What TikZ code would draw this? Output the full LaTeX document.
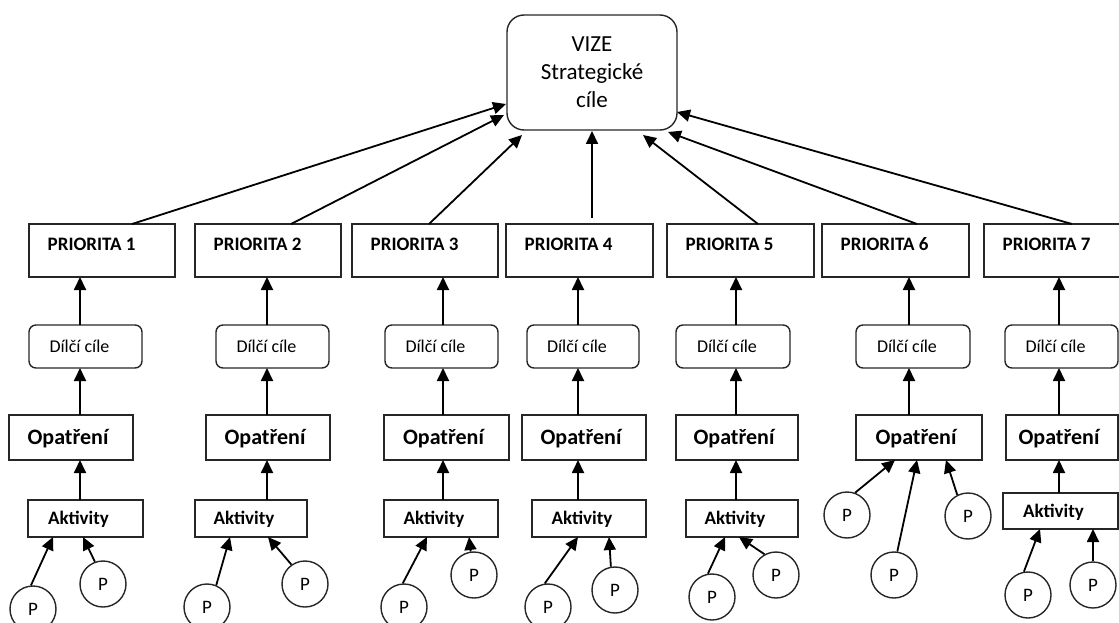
\documentclass[tikz,border=0pt]{standalone}
\usepackage{fontspec}
\setmainfont{Carlito}
\usetikzlibrary{arrows.meta,calc}
\newcommand\bx[7]{\node[#1, minimum width={(#5)-(#3)}, minimum height={(#6)-(#4)}] (#2) at ({((#3)+(#5))/2},{((#4)+(#6))/2}) {#7};}
\begin{document}
\begin{tikzpicture}[x=1pt,y=-1pt,
  box/.style={draw=black!85, line width=1.4pt, inner sep=0pt, outer sep=0pt},
  rbox/.style={box, rounded corners=7pt},
  vbox/.style={box, rounded corners=17pt, align=center, font=\fontsize{23}{28}\selectfont},
  ptxt/.style={font=\bfseries\fontsize{19}{22}\selectfont, inner sep=0pt, anchor=base west},
  dtxt/.style={font=\fontsize{18}{21}\selectfont, inner sep=0pt},
  otxt/.style={font=\bfseries\fontsize{22}{25}\selectfont, inner sep=0pt},
  atxt/.style={font=\bfseries\fontsize{19}{22}\selectfont, inner sep=0pt},
  pc/.style={draw=black!85, line width=1.4pt, circle, minimum size=46pt, inner sep=0pt, font=\fontsize{19}{21}\selectfont},
  arr/.style={line width=1.8pt, -{Triangle[length=13pt,width=12pt]}},
]
\useasboundingbox (0,0) rectangle (1119,623);

% top box
\bx{vbox}{V}{507}{15}{677}{130}{VIZE\\Strategické\\cíle}

% priorities
\bx{box}{p1}{29}{224}{175}{277}{}
\bx{box}{p2}{195}{224}{341}{277}{}
\bx{box}{p3}{352}{224}{498}{277}{}
\bx{box}{p4}{506}{224}{653}{277}{}
\bx{box}{p5}{667}{224}{814}{277}{}
\bx{box}{p6}{822}{224}{969}{277}{}
\bx{box}{p7}{984}{224}{1131}{277}{}
\node[ptxt] (p1t) at (47.5,250) {PRIORITA 1};
\node[ptxt] (p2t) at (213.5,250) {PRIORITA 2};
\node[ptxt] (p3t) at (370.5,250) {PRIORITA 3};
\node[ptxt] (p4t) at (524.5,250) {PRIORITA 4};
\node[ptxt] (p5t) at (685.5,250) {PRIORITA 5};
\node[ptxt] (p6t) at (840.5,250) {PRIORITA 6};
\node[ptxt] (p7t) at (1002.5,250) {PRIORITA 7};

% dilci cile
\bx{rbox}{d1}{29}{325}{142}{368}{}
\bx{rbox}{d2}{216}{325}{329}{368}{}
\bx{rbox}{d3}{385}{325}{498}{368}{}
\bx{rbox}{d4}{527}{325}{639}{368}{}
\bx{rbox}{d5}{676}{325}{790}{368}{}
\bx{rbox}{d6}{856}{325}{970}{368}{}
\bx{rbox}{d7}{1005}{325}{1118}{368}{}
\foreach \i in {1,...,7}{\node[dtxt] (d\i t) at ($(d\i.center)+(-6,0)$) {Dílčí cíle};}

% opatreni
\bx{box}{o1}{9}{415}{133}{460}{}
\bx{box}{o2}{206}{415}{330}{460}{}
\bx{box}{o3}{384}{415}{509}{460}{}
\bx{box}{o4}{522}{415}{646}{460}{}
\bx{box}{o5}{676}{415}{798}{460}{}
\bx{box}{o6}{856}{415}{982}{460}{}
\bx{box}{o7}{1006}{415}{1118}{460}{}
\foreach \i in {1,...,7}{\node[otxt] (o\i t) at ($(o\i.center)+(-3,1)$) {Opatření};}

% aktivity
\bx{box}{a1}{28}{500}{143}{537}{}
\bx{box}{a2}{195}{500}{307}{537}{}
\bx{box}{a3}{384}{500}{498}{537}{}
\bx{box}{a4}{532}{500}{646}{537}{}
\bx{box}{a5}{686}{500}{798}{537}{}
\bx{box}{a7}{1003}{493}{1118}{529}{}
\foreach \i in {1,2,3,4,5,7}{\node[atxt] (a\i t) at ($(a\i.center)+(-7,1)$) {Aktivity};}

% column axes
\coordinate (k1) at (80,0);
\coordinate (k2) at (267,0);
\coordinate (k3) at (443,0);
\coordinate (k4) at (578,0);
\coordinate (k5) at (736,0);
\coordinate (k6) at (909,0);
\coordinate (k7) at (1059,0);

\foreach \i in {1,...,7}{
  \draw[arr] (d\i.north -| k\i) -- (p\i.south -| k\i);
  \draw[arr] (o\i.north -| k\i) -- (d\i.south -| k\i);
}
\foreach \i in {1,2,3,4,5,7}{
  \draw[arr] (a\i.north -| k\i) -- (o\i.south -| k\i);
}

% priorities to vision
\coordinate (s1) at (132,0);
\coordinate (s2) at (291,0);
\coordinate (s3) at (429,0);
\coordinate (s4) at (592,0);
\coordinate (s5) at (758,0);
\coordinate (s6) at (917,0);
\coordinate (s7) at (1072,0);
\coordinate (t1) at (506,104);
\coordinate (t2) at (504,115);
\coordinate (t3) at (522,135);
\coordinate (t4) at (592,131);
\coordinate (t5) at (643,135);
\coordinate (t6) at (668,132);
\coordinate (t7) at (677,112);
\foreach \i in {1,2,3,5,6,7}{\draw[arr] (p\i.north -| s\i) -- (t\i);}
\draw[arr, shorten <=6pt] (p4.north -| s4) -- (t4);

% P circles
\node[pc] (q1a) at (33,609) {P};
\node[pc] (q1b) at (103,584) {P};
\node[pc] (q2a) at (207,607) {P};
\node[pc] (q2b) at (305,584) {P};
\node[pc] (q3a) at (404,607) {P};
\node[pc] (q3b) at (474,575) {P};
\node[pc] (q4a) at (548,607) {P};
\node[pc] (q4b) at (615,590) {P};
\node[pc] (q5a) at (712,597) {P};
\node[pc] (q5b) at (776,575) {P};
\node[pc] (q6a) at (847,515) {P};
\node[pc] (q6b) at (894,575) {P};
\node[pc] (q6c) at (968,516) {P};
\node[pc] (q7a) at (1028,595) {P};
\node[pc] (q7b) at (1093,585) {P};

\draw[arr] (q1a.95)  -- ($(a1.south west)+(25,0)$);
\draw[arr] (q1b.110) -- ($(a1.south west)+(55,0)$);
\draw[arr] (q2a.67)  -- ($(a2.south west)+(35,0)$);
\draw[arr] (q2b.125) -- ($(a2.south west)+(73,0)$);
\draw[arr] (q3a.93)  -- ($(a3.south west)+(43,0)$);
\draw[arr] (q3b.98)  -- ($(a3.south west)+(85,0)$);
\draw[arr] (q4a.98)  -- ($(a4.south west)+(46,0)$);
\draw[arr] (q4b.100) -- ($(a4.south west)+(77,0)$);
\draw[arr] (q5a.100) -- ($(a5.south west)+(39,0)$);
\draw[arr] (q5b.119) -- ($(a5.south west)+(53,0)$);
\draw[arr] (q6a.70)  -- ($(o6.south west)+(39,0)$);
\draw[arr] (q6b.82)  -- ($(o6.south west)+(61,0)$);
\draw[arr] (q6c.117) -- ($(o6.south west)+(90,0)$);
\draw[arr] (q7a.100) -- ($(a7.south west)+(37,0)$);
\draw[arr] (q7b.90)  -- ($(a7.south west)+(90,0)$);
\end{tikzpicture}
\end{document}
